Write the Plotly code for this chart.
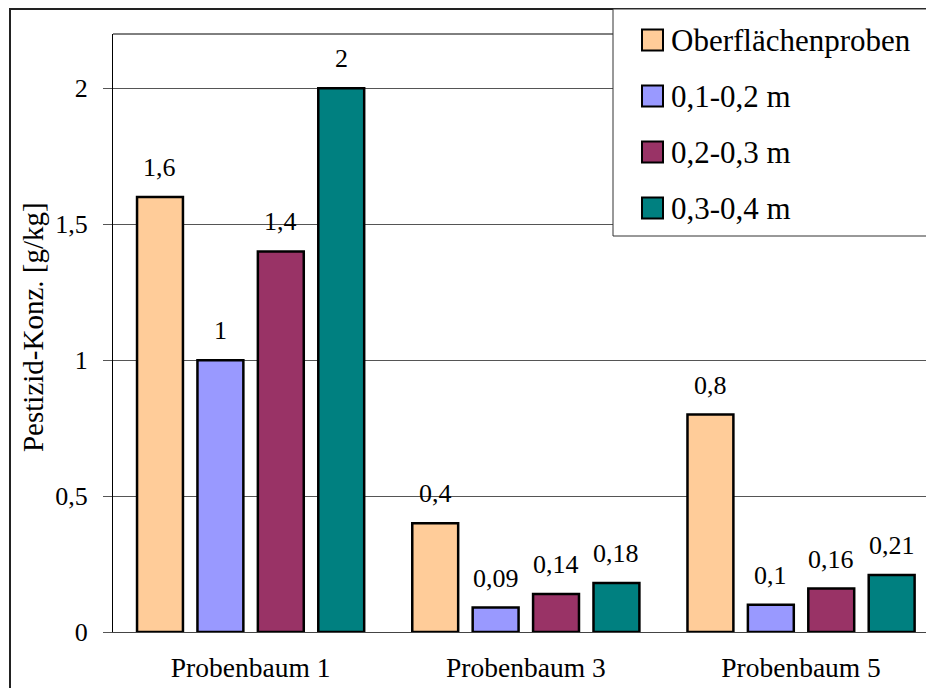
import plotly.graph_objects as go

# Pestizid-Konzentration je Probenbaum und Tiefe
categories = ["Probenbaum 1", "Probenbaum 3", "Probenbaum 5"]
series_names = ["Oberflächenproben", "0,1-0,2 m", "0,2-0,3 m", "0,3-0,4 m"]
oberflaeche = [1.6, 0.4, 0.8]
tiefe_01_02 = [1.0, 0.09, 0.1]
tiefe_02_03 = [1.4, 0.14, 0.16]
tiefe_03_04 = [2.0, 0.18, 0.21]
series_values = [oberflaeche, tiefe_01_02, tiefe_02_03, tiefe_03_04]
colors = ["#FFCC99", "#9999FF", "#993366", "#008080"]
y_title = "Pestizid-Konz. [g/kg]"

FONT = "'Liberation Serif', 'Times New Roman', 'DejaVu Serif', serif"
W, H = 926, 688
ML, MR, MT, MB = 113, 0, 34, 56
BARGAP = 0.122
BARGROUPGAP = 0.24
X_RANGE = [-0.5, 2.454]


def px(x):
    """pixel x -> paper x"""
    return (x - ML) / (W - ML - MR)


def py(y):
    """pixel y (from top) -> paper y"""
    return (H - MB - y) / (H - MT - MB)


def fmt(v):
    return f"{v:g}".replace(".", ",")


fig = go.Figure()
for name, vals, col in zip(series_names, series_values, colors):
    fig.add_trace(go.Bar(
        x=categories, y=vals, name=name,
        marker=dict(color=col, line=dict(color="black", width=2.5)),
        showlegend=False,
    ))

# value labels above each bar
n = len(series_names)
slot = (1 - BARGAP) / n
annotations = []
for k, vals in enumerate(series_values):
    for i, v in enumerate(vals):
        annotations.append(dict(
            x=i + (k - (n - 1) / 2) * slot, y=v, xref="x", yref="y",
            text=fmt(v), showarrow=False, yanchor="bottom", yshift=13,
            font=dict(family=FONT, size=26, color="black"),
        ))

# y-axis title
annotations.append(dict(
    x=px(33), y=0.51, xref="paper", yref="paper", text=y_title,
    textangle=-90, showarrow=False, xanchor="center", yanchor="middle",
    font=dict(family=FONT, size=29, color="black"),
))

shapes = [
    # outer chart frame
    dict(type="rect", xref="paper", yref="paper", x0=px(10), y0=py(9),
         x1=px(940), y1=py(700), line=dict(color="#222", width=2),
         fillcolor="rgba(0,0,0,0)", layer="above"),
    # plot area top border
    dict(type="line", xref="paper", yref="paper", x0=0, x1=1, y0=1, y1=1,
         line=dict(color="black", width=1), layer="above"),
    # legend box
    dict(type="rect", xref="paper", yref="paper", x0=px(613), y0=py(9),
         x1=px(940), y1=py(236), line=dict(color="#333", width=1),
         fillcolor="white", layer="above"),
]

# legend entries
row_y = [40, 96, 152, 208]
for name, col, ry in zip(series_names, colors, row_y):
    shapes.append(dict(
        type="rect", xref="paper", yref="paper",
        x0=px(642), x1=px(663), y0=py(ry - 10.5), y1=py(ry + 10.5),
        line=dict(color="black", width=2), fillcolor=col, layer="above",
    ))
    annotations.append(dict(
        x=px(669), y=py(ry), xref="paper", yref="paper", text=name,
        showarrow=False, xanchor="left", yanchor="middle",
        font=dict(family=FONT, size=31, color="black"),
    ))

fig.update_layout(
    width=W, height=H,
    margin=dict(l=ML, r=MR, t=MT, b=MB, autoexpand=False),
    paper_bgcolor="white", plot_bgcolor="white",
    barmode="group", bargap=BARGAP, bargroupgap=BARGROUPGAP,
    separators=",.",
    font=dict(family=FONT, size=26, color="black"),
    annotations=annotations, shapes=shapes,
    xaxis=dict(
        type="category", range=X_RANGE, showgrid=False,
        showline=True, linecolor="#444", linewidth=1,
        ticks="", ticklabelstandoff=11,
        tickfont=dict(family=FONT, size=27.5, color="black"),
    ),
    yaxis=dict(
        range=[0, 2.2], dtick=0.5, tick0=0,
        showgrid=True, gridcolor="#555", gridwidth=1, zeroline=False,
        showline=True, linecolor="black", linewidth=1,
        ticks="outside", ticklen=9, tickcolor="#555", tickwidth=1,
        ticklabelstandoff=10,
        tickfont=dict(family=FONT, size=26, color="black"),
    ),
)

fig.write_html("out.html")
